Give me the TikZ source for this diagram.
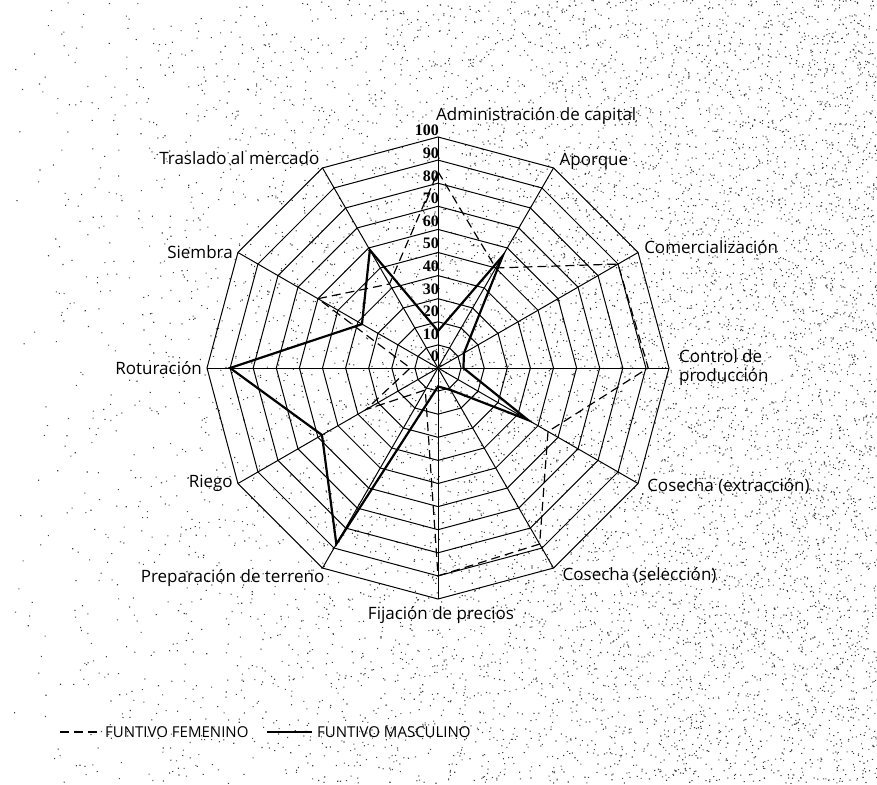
\documentclass[tikz,border=0pt]{standalone}
\usepackage{fontspec}
\setmainfont{Open Sans}
\newfontfamily\numfont{Liberation Serif}
\usetikzlibrary{calc}
\begin{document}
\begin{tikzpicture}[x=1pt,y=1pt]
\tikzstyle{grid} = [line width=1pt, black]
\tikzstyle{fem} = [line width=1.2pt, dash pattern=on 9pt off 5pt]
\tikzstyle{mas} = [line width=2.2pt]
\tikzstyle{lab} = [font=\fontsize{17}{19}\selectfont, inner sep=0pt, align=left]
\tikzstyle{tick} = [font=\numfont\bfseries\fontsize{16}{16}\selectfont, inner sep=0pt, anchor=base east]
\tikzstyle{legend} = [font=\fontsize{15}{16}\selectfont, inner sep=0pt, anchor=west]
\useasboundingbox (-438,-416) rectangle (439,368);
% stipple of the scan
\pgfmathsetseed{11}
\foreach \j in {1,...,19}
  \fill[black!75] \foreach \i in {1,...,500}{({-438+877*sqrt(rnd)},{-416+784*rnd}) rectangle ++(1.1,1.1)};
% grid
\coordinate (o) at (0,0);
\foreach \i in {0,...,11} \coordinate (ax\i) at ({90-30*\i}:231);
\foreach \k in {1,...,10}
  \draw[grid] (90:{23.1*\k}) \foreach \i in {1,...,11}{ -- ({90-30*\i}:{23.1*\k})} -- cycle;
\foreach \i in {0,...,11} \draw[grid] (o) -- (ax\i);
\foreach \v [count=\k from 0] in {0,10,...,100}
  \node[tick] (t\k) at (1,{6+22.6*\k}) {\v};
% data
\foreach \v [count=\i from 0] in {85,50,90,91,55,88,90,11,36,12,60,42}
  \coordinate (f\i) at ({90-30*\i}:{2.31*\v});
\foreach \v [count=\i from 0] in {16,56,13,11,45,11,8,88,58,90,38,59}
  \coordinate (m\i) at ({90-30*\i}:{2.31*\v});
\draw[fem] (f0) \foreach \i in {1,...,11}{ -- (f\i)} -- cycle;
\draw[mas] (m0) \foreach \i in {1,...,11}{ -- (m\i)} -- cycle;
% labels
\foreach \i/\anc/\dx/\dy/\txt in {
  0/west/-2/21/{Administración de capital},
  1/west/6/6/{Aporque},
  2/west/6/5/{Comercialización},
  3/west/10/0/{Control de\\producción},
  4/west/9/-3/{Cosecha (extracción)},
  5/north west/9/1/{Cosecha (selección)},
  6/north/3/-7/{Fijación de precios},
  7/north east/2/-1/{Preparación de terreno},
  8/east/-5/0/{Riego},
  9/east/-5/0/{Roturación},
  10/east/-5/0/{Siembra},
  11/base east/-3/3/{Traslado al mercado}}
  \node[lab, anchor=\anc] (l\i) at ($(ax\i)+(\dx,\dy)$) {\txt};
% legend
\node[legend] (lfem) at (-333,-364) {FUNTIVO FEMENINO};
\node[legend] (lmas) at (-121,-364) {FUNTIVO MASCULINO};
\coordinate (lf) at ($(lfem.west)+(-45,0)$);
\coordinate (lm) at ($(lmas.west)+(-50,0)$);
\draw[fem] (lf) -- ($(lfem.west)+(-5,0)$);
\draw[mas] (lm) -- ($(lmas.west)+(-5,0)$);
\end{tikzpicture}
\end{document}
